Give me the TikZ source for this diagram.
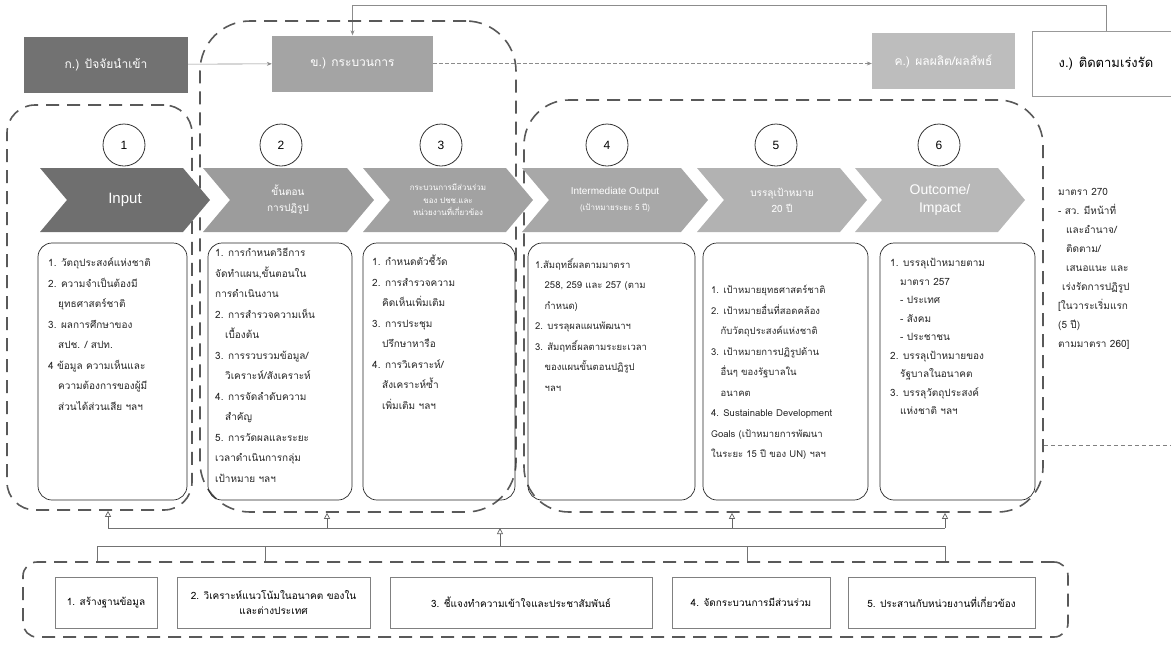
\documentclass[tikz,border=0pt]{standalone}
\usepackage{fontspec}
\setmainfont[Script=Thai]{Loma}
\newfontfamily\numfont{Liberation Sans}
\usetikzlibrary{arrows.meta}
\definecolor{boxA}{HTML}{727272}
\definecolor{boxB}{HTML}{A4A4A4}
\definecolor{boxC}{HTML}{BDBDBD}
\definecolor{chA}{HTML}{6F6F6F}
\definecolor{chB}{HTML}{9C9C9C}
\definecolor{chC}{HTML}{A2A2A2}
\definecolor{chD}{HTML}{A8A8A8}
\definecolor{chE}{HTML}{B2B2B2}
\definecolor{chF}{HTML}{B8B8B8}
\begin{document}
\begin{tikzpicture}[x=1pt, y=-1pt,
    every node/.style={inner sep=0pt},
    region/.style={draw=black!65, line width=1.6pt, dash pattern=on 13pt off 8pt, rounded corners=#1},
    topbox/.style={minimum height=56, text=white, font=\fontsize{12}{14}\selectfont},
    cbox/.style={draw=black!85, line width=0.7pt, rounded corners=14},
    btext/.style={anchor=north west, align=left, text=black!85, font=\fontsize{10}{20.5}\selectfont},
    num/.style={circle, draw=black!80, line width=0.8pt, fill=white, minimum size=42, font=\numfont\fontsize{12}{12}\selectfont},
    chtext/.style={align=center, text=white, font=\fontsize{10}{16}\selectfont},
    flow/.style={draw=black!45, line width=0.6pt, -{Stealth[length=5pt,width=4pt]}},
    upar/.style={draw=black!60, line width=0.7pt, -{Triangle[open,length=6pt,width=6pt]}},
    bus/.style={draw=black!55, line width=0.7pt},
    sbox/.style={draw=black!50, line width=0.5pt, minimum height=51, align=center, font=\fontsize{10}{15}\selectfont}]
    \useasboundingbox (0,0) rectangle (1171,646);

    \node[topbox, fill=boxA, minimum width=164] (inp) at (106,64.5) {ก.) ปัจจัยนำเข้า};
    \node[topbox, fill=boxB, minimum width=161] (proc) at (352.5,63.5) {ข.) กระบวนการ};
    \node[topbox, fill=boxC, minimum width=143] (outp) at (943.5,61) {ค.) ผลผลิต/ผลลัพธ์};
    \node[draw=black!40, line width=0.5pt, minimum width=148, minimum height=65, font=\fontsize{13}{15}\selectfont] (mon) at (1106,63.5) {ง.) ติดตามเร่งรัด};
    \draw[flow] (inp) -- (proc);
    \draw[flow, dash pattern=on 4pt off 2pt] (proc.east) -- (proc.east -| outp.west);
    \draw[flow] (mon.north) -- ++(0,-25) -| (proc.north);

    \node[region=28, minimum width=185, minimum height=405] (r1) at (99.5,307.5) {};
    \node[region=50, minimum width=316, minimum height=491] (r2) at (358,266.5) {};
    \node[region=45, minimum width=519, minimum height=412] (r3) at (783.5,306) {};
    \coordinate (rcut) at (1171,445);
    \draw[draw=black!50, line width=0.6pt, dash pattern=on 4pt off 3pt] (r3.east |- rcut) -- (rcut);

    \foreach \n/\x in {1/124, 2/281, 3/441, 4/607, 5/776, 6/939}
        \node[num] (c\n) at (\x,145) {\n};

    \foreach \l/\r/\c in {40/183/chA, 203/347/chB, 363/506/chC, 522/681/chD, 697/840/chE, 855/998/chF}
        \fill[\c] (\l,168) -- (\r,168) -- (\r+27,200) -- (\r,232) -- (\l,232) -- (\l+27,200) -- cycle;
    \node[chtext, font=\numfont\fontsize{15}{17}\selectfont] (t1) at (125,200) {Input};
    \node[chtext] (t2) at (288,200) {ขั้นตอน\\การปฏิรูป};
    \node[chtext, font=\fontsize{8}{12.5}\selectfont] (t3) at (448,200) {กระบวนการมีส่วนร่วม\\ของ ปชช.และ\\หน่วยงานที่เกี่ยวข้อง};
    \node[chtext] (t4) at (615,200) {{\numfont Intermediate Output}\\{\fontsize{8}{12}\selectfont (เป้าหมายระยะ 5 ปี)}};
    \node[chtext] (t5) at (782,200) {บรรลุเป้าหมาย\\20 ปี};
    \node[chtext, font=\numfont\fontsize{14}{18}\selectfont] (t6) at (940,200) {Outcome/\\Impact};

    \node[cbox, minimum width=149, minimum height=257] (b1) at (112.5,371.5) {};
    \node[cbox, minimum width=144, minimum height=257] (b2) at (280,371.5) {};
    \node[cbox, minimum width=152, minimum height=257] (b3) at (439,371.5) {};
    \node[cbox, minimum width=167, minimum height=257] (b4) at (611.5,371.5) {};
    \node[cbox, minimum width=165, minimum height=257] (b5) at (785.5,371.5) {};
    \node[cbox, minimum width=155, minimum height=257] (b6) at (957.5,371.5) {};

    \node[btext] (b1t) at (48,258) {1. วัตถุประสงค์แห่งชาติ\\2. ความจำเป็นต้องมี\\\hspace*{1em}ยุทธศาสตร์ชาติ\\3. ผลการศึกษาของ\\\hspace*{1em}สปช. / สปท.\\4 ข้อมูล ความเห็นและ\\\hspace*{1em}ความต้องการของผู้มี\\\hspace*{1em}ส่วนได้ส่วนเสีย ฯลฯ};
    \node[btext] (b2t) at (215,248) {1. การกำหนดวิธีการ\\จัดทำแผน,ขั้นตอนใน\\การดำเนินงาน\\2. การสำรวจความเห็น\\\hspace*{1em}เบื้องต้น\\3. การรวบรวมข้อมูล/\\\hspace*{1em}วิเคราะห์/สังเคราะห์\\4. การจัดลำดับความ\\\hspace*{1em}สำคัญ\\5. การวัดผลและระยะ\\เวลาดำเนินการกลุ่ม\\เป้าหมาย ฯลฯ};
    \node[btext] (b3t) at (372,255) {1. กำหนดตัวชี้วัด\\2. การสำรวจความ\\\hspace*{1em}คิดเห็นเพิ่มเติม\\3. การประชุม\\\hspace*{1em}ปรึกษาหารือ\\4. การวิเคราะห์/\\\hspace*{1em}สังเคราะห์ซ้ำ\\\hspace*{1em}เพิ่มเติม ฯลฯ};
    \node[btext, font=\fontsize{9.5}{20.5}\selectfont] (b4t) at (535,258) {1.สัมฤทธิ์ผลตามมาตรา\\\hspace*{1em}258, 259 และ 257 (ตาม\\\hspace*{1em}กำหนด)\\2. บรรลุผลแผนพัฒนาฯ\\3. สัมฤทธิ์ผลตามระยะเวลา\\\hspace*{1em}ของแผนขั้นตอนปฏิรูป\\\hspace*{1em}ฯลฯ};
    \node[btext, font=\fontsize{9.5}{20.5}\selectfont] (b5t) at (711,285) {1. เป้าหมายยุทธศาสตร์ชาติ\\2. เป้าหมายอื่นที่สอดคล้อง\\\hspace*{1em}กับวัตถุประสงค์แห่งชาติ\\3. เป้าหมายการปฏิรูปด้าน\\\hspace*{1em}อื่นๆ ของรัฐบาลใน\\\hspace*{1em}อนาคต\\4. Sustainable Development\\Goals (เป้าหมายการพัฒนา\\ในระยะ 15 ปี ของ UN) ฯลฯ};
    \node[btext, font=\fontsize{10}{18.5}\selectfont] (b6t) at (890,258) {1. บรรลุเป้าหมายตาม\\\hspace*{1em}มาตรา 257\\\hspace*{1em}- ประเทศ\\\hspace*{1em}- สังคม\\\hspace*{1em}- ประชาชน\\2. บรรลุเป้าหมายของ\\\hspace*{1em}รัฐบาลในอนาคต\\3. บรรลุวัตถุประสงค์\\\hspace*{1em}แห่งชาติ ฯลฯ};
    \node[btext, font=\fontsize{10}{19}\selectfont] (law) at (1058,188) {มาตรา 270\\- สว. มีหน้าที่\\\hspace*{0.8em}และอำนาจ/\\\hspace*{0.8em}ติดตาม/\\\hspace*{0.8em}เสนอแนะ และ\\\hspace*{0.4em}เร่งรัดการปฏิรูป\\{[}ในวาระเริ่มแรก\\(5 ปี)\\ตามมาตรา 260{]}};

    \node[region=14, minimum width=1045, minimum height=75] (sup) at (545.5,599.5) {};
    \node[sbox, minimum width=102] (s1) at (106,602.5) {1. สร้างฐานข้อมูล};
    \node[sbox, minimum width=193] (s2) at (273.5,602.5) {2. วิเคราะห์แนวโน้มในอนาคต ของใน\\และต่างประเทศ};
    \node[sbox, minimum width=262] (s3) at (521,602.5) {3. ชี้แจงทำความเข้าใจและประชาสัมพันธ์};
    \node[sbox, minimum width=158] (s4) at (751,602.5) {4. จัดกระบวนการมีส่วนร่วม};
    \node[sbox, minimum width=187] (s5) at (941.5,602.5) {5. ประสานกับหน่วยงานที่เกี่ยวข้อง};

    \coordinate (busL) at (108,528);
    \coordinate (busR) at (945,528);
    \draw[bus] (busL) -- (busR);
    \foreach \x/\r in {108/r1, 327/r2, 732/r3, 945/r3}
        \draw[upar] (\x,528) -- (\x,528 |- \r.south);
    \draw[bus] (sup.north -| 97,0) |- (945,546) -- (sup.north -| 945,0);
    \foreach \x in {265, 747}
        \draw[bus] (\x,546) -- (sup.north -| \x,0);
    \draw[upar] (500,546) -- (500,528);
\end{tikzpicture}
\end{document}
